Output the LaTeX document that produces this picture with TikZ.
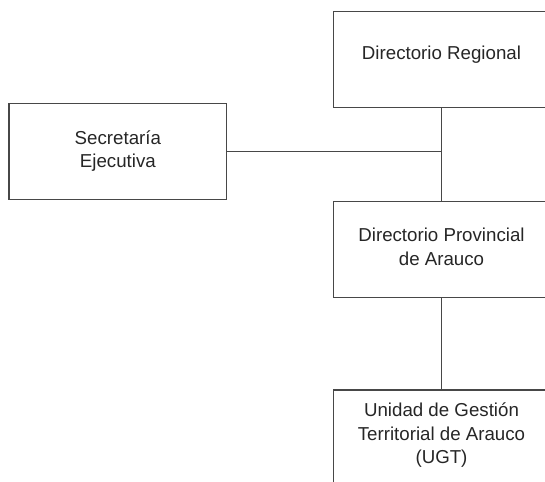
\documentclass[tikz,border=0pt]{standalone}
\usepackage{fontspec}
\setmainfont{Liberation Sans}
\begin{document}
\begin{tikzpicture}[x=1pt,y=1pt,
  orgbox/.style={draw=black!72, line width=1.1pt, rectangle, inner sep=0pt, fill=none},
  orgtext/.style={text=black!85, align=center, font=\fontsize{18.7}{23.5}\selectfont, inner sep=0pt},
  link/.style={draw=black!72, line width=1.1pt}]
\useasboundingbox (0,0) rectangle (545,481);
% boxes
\node[orgbox, minimum width=215.7, minimum height=96.3] (reg) at (441.2,421.2) {};
\node[orgbox, minimum width=217.7, minimum height=96] (sec) at (117.85,329.7) {};
\node[orgbox, minimum width=215.7, minimum height=95.6] (prov) at (441.2,231.5) {};
\node[orgbox, minimum width=215.7, minimum height=100] (ugt) at (441.2,41) {};
% texts
\node[orgtext] (regT) at (441.5,426.5) {Directorio Regional};
\node[orgtext] (secT) at (117.85,329.7) {Secretaría\\Ejecutiva};
\node[orgtext] (provT) at (441.5,234) {Directorio Provincial\\de Arauco};
\node[orgtext] (ugtT) at (441.5,45.5) {Unidad de Gestión\\Territorial de Arauco\\(UGT)};
% connectors
\coordinate (joint) at (sec.east -| reg.south);
\draw[link] (reg.south) -- (prov.north);
\draw[link] (sec.east) -- (joint);
\draw[link] (prov.south) -- (ugt.north);
\end{tikzpicture}
\end{document}
